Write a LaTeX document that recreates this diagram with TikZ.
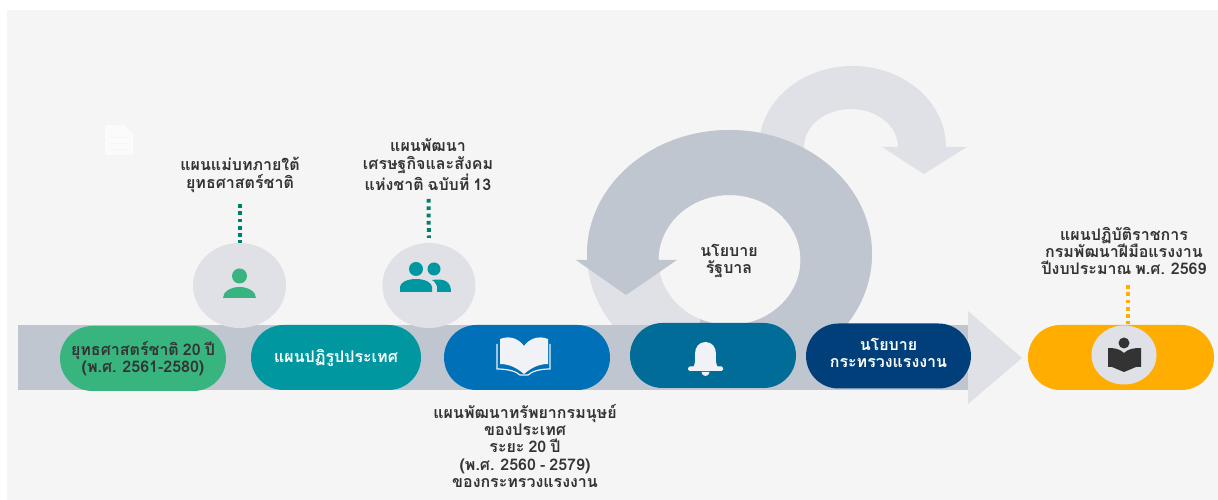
\documentclass[tikz,border=0pt]{standalone}
\usepackage{fontspec}
\newfontfamily\thaifont[Script=Thai,WordSpace=0.75]{Loma}
\usetikzlibrary{positioning,shapes.geometric,shapes.misc}
\definecolor{panelgray}{HTML}{F5F5F5}
\definecolor{banddark}{HTML}{BFC6D0}
\definecolor{bandlight}{HTML}{DFE1E6}
\definecolor{pillgreen}{HTML}{38B47F}
\definecolor{pillteal}{HTML}{0097A0}
\definecolor{pillblue}{HTML}{0070B8}
\definecolor{pillsea}{HTML}{006C97}
\definecolor{pillnavy}{HTML}{003F7A}
\definecolor{pillorange}{HTML}{FFAD00}
\definecolor{dotgreen}{HTML}{00806A}
\definecolor{textdark}{HTML}{333333}
\definecolor{iconwhite}{HTML}{F0F2F6}
\tikzset{pill/.style={rounded rectangle,minimum width=#1,minimum height=65pt,inner sep=0pt,
                      font=\thaifont\bfseries\fontsize{16}{17}\selectfont,align=center},
         label text/.style={inner sep=0pt,text=textdark,align=center,
                      font=\thaifont\bfseries\fontsize{16}{17.3}\selectfont},
         icon disc/.style={ellipse,fill=bandlight,minimum width=93pt,minimum height=85pt,inner sep=0pt},
         square dotted/.style={line width=4pt,dash pattern=on 3.7pt off 3.6pt}}

\begin{document}
\begin{tikzpicture}[x=1pt,y=1pt]
\useasboundingbox (0,0) rectangle (1218,500);
\fill[panelgray] (7,0) rectangle (1218,490);

% small arrow behind
\fill[bandlight] (759,353) arc[start angle=180,end angle=0,x radius=93.5,y radius=81] -- (967,353) -- (924,326)
  -- (882,353) -- (898,353) arc[start angle=0,end angle=180,x radius=47,y radius=38] -- (804,320) -- (759,320) -- cycle;

% big ring
\fill[bandlight,even odd rule] (729.5,246) ellipse[x radius=142.5,y radius=124] (729.5,240) ellipse[x radius=71,y radius=65];
\begin{scope}
\clip (570,240) -- (700,240) -- (700,100) -- (900,100) -- (900,400) -- (570,400) -- cycle;
\fill[banddark,even odd rule] (729.5,246) ellipse[x radius=142.5,y radius=124] (729.5,240) ellipse[x radius=71,y radius=65];
\end{scope}
\fill[banddark] (576,240) -- (677,240) -- (626,205) -- cycle;

% band
\fill[banddark] (18,110) rectangle (968,175);
\fill[bandlight] (968,189) -- (1022,142) -- (968,96) -- cycle;

% pills
\node[pill=166pt,fill=pillgreen,text=textdark] (strategy) at (143,141.5) {ยุทธศาสตร์ชาติ 20 ปี\\(พ.ศ. 2561-2580)};
\node[pill=170pt,fill=pillteal,text=white] (reform) at (336,142.5) {แผนปฏิรูปประเทศ\\[-13pt]};
\node[pill=166pt,fill=pillblue] (manpower) at (527,142.5) {};
\node[pill=166pt,fill=pillsea] (cabinet) at (713,144.5) {};
\node[pill=165pt,fill=pillnavy,text=white] (ministry) at (888.5,144) {นโยบาย\\กระทรวงแรงงาน\\[-11pt]};
\node[pill=186pt,fill=pillorange] (actionplan) at (1121,142.5) {};

% discs
\node[icon disc] (masterdisc) at (239.5,214.5) {};
\node[icon disc,right=96pt of masterdisc] (econdisc) {};
\node[ellipse,fill=bandlight,minimum width=65pt,minimum height=59pt,inner sep=0pt] (orangedisc) at (1124,145) {};

% labels
\node[label text] (masterlbl) at (240,325) {แผนแม่บทภายใต้\\ยุทธศาสตร์ชาติ};
\node[label text] (econlbl) at (428,335) {แผนพัฒนา\\เศรษฐกิจและสังคม\\แห่งชาติ ฉบับที่ 13};
\node[label text] (hrlbl) at (525,54) {แผนพัฒนาทรัพยากรมนุษย์\\ของประเทศ\\ระยะ 20 ปี\\(พ.ศ. 2560 - 2579)\\ของกระทรวงแรงงาน};
\node[label text] (govlbl) at (729,239) {นโยบาย\\รัฐบาล};
\node[label text] (planlbl) at (1124,249) {แผนปฏิบัติราชการ\\กรมพัฒนาฝีมือแรงงาน\\ปีงบประมาณ พ.ศ. 2569};

% dotted links
\coordinate (masterdot) at (240,296);
\coordinate (econdot) at (428.5,301);
\coordinate (plandot) at (1128,215);
\draw[square dotted,dotgreen] (masterdot) -- (masterdot |- masterdisc.north);
\draw[square dotted,dotgreen,shorten >=5pt] (econdot) -- (econdisc.north);
\draw[square dotted,pillorange,shorten >=1pt] (plandot) -- (plandot |- actionplan.north);

% person icons
\fill[pillgreen] (239.5,224) circle (7.5);
\fill[pillgreen] (223,202) arc[start angle=180,end angle=0,x radius=16.5,y radius=11] -- cycle;
\fill[pillteal] (416,231) circle (7);
\fill[pillteal] (434,231) circle (6.5);
\fill[pillteal] (400,208) -- (400,213) arc[start angle=180,end angle=0,x radius=16,y radius=8] -- (432,208) -- cycle;
\fill[pillteal] (437,208) -- (437,214) .. controls (435,218) and (433,220) .. (432,220) .. controls (445,222) and (451,218) .. (451,208) -- cycle;

% open book on blue pill
\fill[iconwhite] (524,126) .. controls (516,133) and (508,136) .. (500,136) -- (500,161) .. controls (510,165) and (519,161) .. (524,154)
  .. controls (529,161) and (538,165) .. (548,161) -- (548,136) .. controls (540,136) and (532,133) .. (524,126) -- cycle;
\draw[iconwhite,line width=1.2pt] (497,156) -- (497,131) .. controls (507,131) and (516,129) .. (520,125) -- (528,125) .. controls (532,129) and (541,131) .. (550,131) -- (550,156);

% bell
\fill[iconwhite] (692,131) .. controls (696,136) and (695,140) .. (695,146) .. controls (695,153) and (699,158) .. (705.5,158)
  .. controls (712,158) and (716,153) .. (716,146) .. controls (716,140) and (715,136) .. (719,131) -- cycle;
\fill[iconwhite,rounded corners=1.5pt] (688,129) rectangle (723,133.5);
\fill[iconwhite] (701.5,128) arc[start angle=180,end angle=360,radius=4] -- cycle;

% reading icon
\fill[textdark] (1124,157) circle (5.5);
\fill[textdark] (1124,128) -- (1112,133) -- (1108,133) -- (1108,152) .. controls (1115,152) and (1120,151) .. (1124,147)
  .. controls (1128,151) and (1133,152) .. (1141,152) -- (1141,133) -- (1136,133) -- cycle;

% faint page
\fill[white!60!panelgray!90] (105,345) -- (105,375) -- (124,375) -- (133,366) -- (133,345) -- cycle;
\foreach \y in {363,357,351}
  \draw[panelgray] (110,\y) -- (128,\y);
\end{tikzpicture}
\end{document}
